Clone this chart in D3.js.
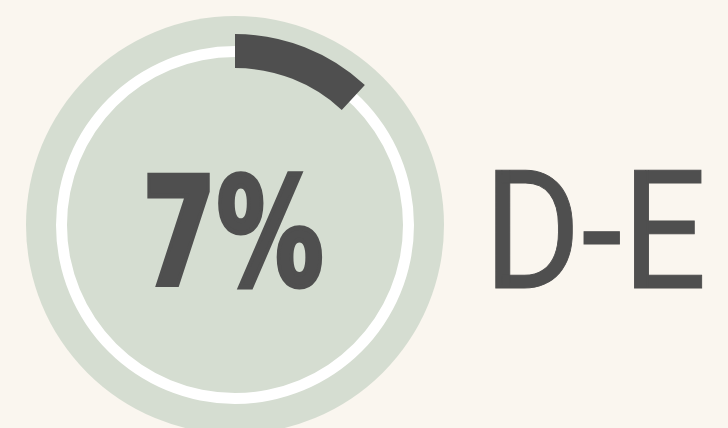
<!DOCTYPE html>
<html>
<head>
<meta charset="utf-8">
<script src="https://cdn.jsdelivr.net/npm/d3@7"></script>
<style>
html,body{margin:0;padding:0;background:#faf6ef;}
svg{display:block;}
</style>
</head>
<body>
<svg id="chart" width="728" height="428"></svg>
<script>
// ---- data ----
const valueLabels = ["7%"];
const categoryLabels = ["D-E"];
const arcShares = [0.119];   // share of full turn covered by the dark arc

const W = 728, H = 428;
const svg = d3.select("#chart");
svg.append("rect").attr("width", W).attr("height", H).attr("fill", "#faf6ef");

const cx = 235, cy = 225;
const g = svg.append("g").attr("transform", `translate(${cx},${cy})`);

const angle = d3.scaleLinear().domain([0, 1]).range([0, 2 * Math.PI]);

// background disc
g.append("circle").attr("r", 209).attr("fill", "#d5ddd1");

// white track ring
g.append("path")
  .attr("d", d3.arc().innerRadius(168).outerRadius(179).startAngle(0).endAngle(2 * Math.PI)())
  .attr("fill", "#ffffff");

// value arc
g.selectAll("path.val").data(arcShares).join("path")
  .attr("class", "val")
  .attr("d", d => d3.arc().innerRadius(157).outerRadius(191).startAngle(0).endAngle(angle(d))())
  .attr("fill", "#4f4f4f");

// text fitting using canvas ink metrics
const ctx = document.createElement("canvas").getContext("2d");
function fitText(text, family, weight, box, color, stroke) {
  ctx.font = `${weight} 100px ${family}`;
  const m = ctx.measureText(text);
  const asc = m.actualBoundingBoxAscent, desc = m.actualBoundingBoxDescent;
  const left = m.actualBoundingBoxLeft, right = m.actualBoundingBoxRight;
  const s = stroke || 0;
  const b = {x0: box.x0 + s / 2, x1: box.x1 - s / 2, y0: box.y0 + s / 2, y1: box.y1 - s / 2};
  const fs = 100 * (b.y1 - b.y0) / (asc + desc);
  const k = fs / 100;
  const sx = (b.x1 - b.x0) / ((left + right) * k);
  const ox = b.x0 + left * k * sx;
  const oy = b.y0 + asc * k;
  const t = svg.append("text")
    .attr("transform", `translate(${ox},${oy}) scale(${sx},1)`)
    .attr("font-family", family)
    .attr("font-weight", weight)
    .attr("font-size", fs)
    .attr("fill", color)
    .text(text);
  if (s) t.attr("stroke", color).attr("stroke-width", s).attr("stroke-linejoin", "miter");
}

fitText(valueLabels[0], "DejaVu Sans", 700, {x0: 146, x1: 324, y0: 169.5, y1: 288.5}, "#4f4f4f", 5);
fitText(categoryLabels[0], "Roboto", 400, {x0: 495, x1: 703, y0: 170, y1: 288.5}, "#4f4f4f", 1);
</script>
</body>
</html>
